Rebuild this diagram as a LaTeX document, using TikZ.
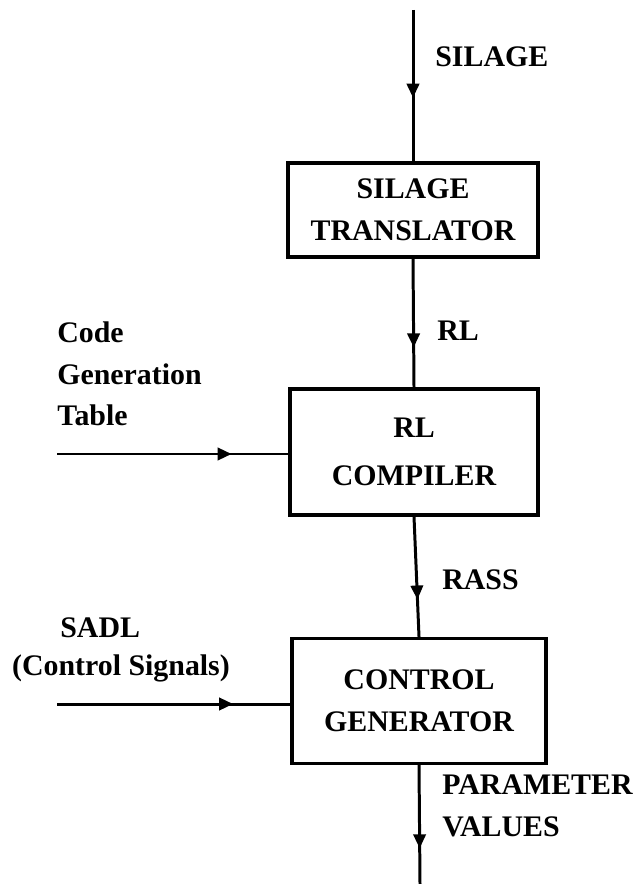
\documentclass[tikz,border=0pt]{standalone}
\usepackage{fontspec}
\setmainfont{Liberation Serif}
\usetikzlibrary{arrows.meta,decorations.markings}
\begin{document}
\begin{tikzpicture}[x=0.02cm,y=-0.02cm,
  blk/.style={draw,line width=1.9pt,inner sep=0pt,font=\fontsize{17}{24}\selectfont\bfseries,align=center},
  lbl/.style={inner sep=0pt,font=\fontsize{17}{23.5}\selectfont\bfseries},
  ln/.style={line width=1.7pt},
  midarr/.style={ln,postaction={decorate},decoration={markings,mark=at position #1 with {\arrow{Triangle[length=8pt,width=7pt]}}}}
]
\useasboundingbox (0,0) rectangle (638,884);
% boxes
\node[blk,minimum width=250*0.02cm,minimum height=94*0.02cm] (b1) at (413,210) {SILAGE\\TRANSLATOR};
\node[blk,minimum width=248*0.02cm,minimum height=126*0.02cm] (b2) at (414,452) {RL\\[3pt]COMPILER};
\node[blk,minimum width=254*0.02cm,minimum height=125*0.02cm] (b3) at (419,701) {CONTROL\\GENERATOR};
% coordinates
\coordinate (top) at (413,10);
\coordinate (bot) at (420,884);
\coordinate (cgt) at (57,454);
\coordinate (sdl) at (57,704);
% connectors
\draw[midarr=0.58] (top) -- (b1.north);
\draw[midarr=0.69] (b1.south) -- (b2.north);
\draw[midarr=0.69] (b2.south) -- (b3.north);
\draw[midarr=0.70] (b3.south) -- (bot);
\draw[midarr=0.755] (cgt) -- (cgt -| b2.west);
\draw[midarr=0.755] (sdl) -- (sdl -| b3.west);
% labels
\node[lbl,anchor=west] (l1) at (435,57) {SILAGE};
\node[lbl,anchor=west] (l2) at (437,331) {RL};
\node[lbl,anchor=west] (l3) at (442,580) {RASS};
\node[lbl,anchor=west,align=left] (l4) at (442,806) {PARAMETER\\VALUES};
\node[lbl,anchor=west,align=left] (l5) at (57,374) {Code\\Generation\\Table};
\node[lbl,anchor=west] (l6) at (60,628) {SADL};
\node[lbl] (l7) at (121,668) {(Control Signals)};
\end{tikzpicture}
\end{document}
